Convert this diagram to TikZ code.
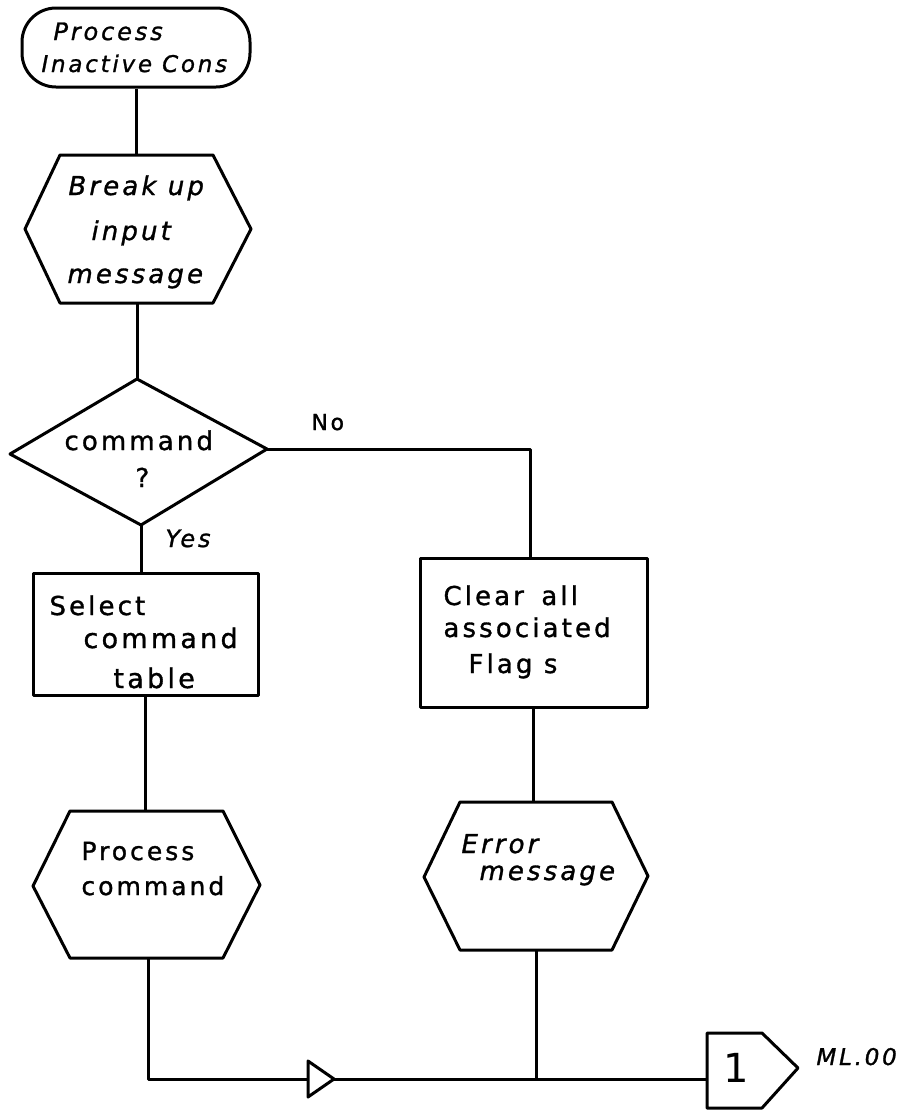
\documentclass[tikz,border=0pt]{standalone}
\usepackage{fontspec}
\newfontfamily\hand[LetterSpace=12,FakeBold=1.2]{DejaVu Sans}
\newfontfamily\numfont{DejaVu Sans}

\begin{document}
\begin{tikzpicture}[x=1pt,y=-1pt, line width=3pt, line join=round,
  box/.style={draw, fill=white, inner sep=0pt},
  txt/.style={anchor=base west, inner sep=0pt, font=\hand\fontsize{26}{30}\selectfont},
  itxt/.style={anchor=base west, inner sep=0pt, font=\hand\itshape\fontsize{26}{30}\selectfont},
  outline/.style={draw, fill=white}]
\useasboundingbox (0,0) rectangle (903,1112);

% --- connection points on the hexagons, diamond and connector ---
\coordinate (breakT) at (136,155);  \coordinate (breakB) at (137,303);
\coordinate (decT) at (137,379);    \coordinate (decR) at (267,449);
\coordinate (decB) at (141,525);
\coordinate (noCorner) at (530,449);
\coordinate (procT) at (145,811);   \coordinate (procB) at (148,958);
\coordinate (errT) at (533,802);    \coordinate (errB) at (536,950);
\coordinate (leftCorner) at (148,1079);
\coordinate (join) at (536,1079);
\coordinate (offL) at (707,1079);

% --- start terminal ---
\node[box, rounded corners=34pt, minimum width=228pt, minimum height=79pt] (start) at (136,47.5) {};

% --- process boxes ---
\node[box, minimum width=225pt, minimum height=122pt] (select) at (145.5,634) {};
\node[box, minimum width=227pt, minimum height=149pt] (clear) at (533.5,632.5) {};

% --- connectors ---
\draw (breakT |- start.south) -- (breakT);
\draw (breakB) -- (decT);
\draw (decB) -- (decB |- select.north);
\draw (decR) -- (noCorner) -- (noCorner |- clear.north);
\draw (procT |- select.south) -- (procT);
\draw (errT |- clear.south) -- (errT);
\draw (procB) -- (leftCorner) -- (join) -- (offL);
\draw (errB) -- (join);

% flow direction marker on the bottom line
\draw[outline] (308,1061) -- (334,1079) -- (308,1097) -- cycle;

% --- hexagons ---
\draw[outline] (60,155) -- (213,155) -- (251,229) -- (213,303) -- (60,303) -- (25,229) -- cycle;
\draw[outline] (70,811) -- (223,811) -- (260,885) -- (223,958) -- (70,958) -- (33,886) -- cycle;
\draw[outline] (460,802) -- (612,802) -- (648,876) -- (612,950) -- (460,950) -- (424,877) -- cycle;

% --- decision ---
\draw[outline] (decT) -- (decR) -- (decB) -- (10,454) -- cycle;

% --- off-page connector ---
\draw[outline] (707,1033) -- (762,1033) -- (798,1068) -- (762,1108) -- (707,1108) -- cycle;

% --- labels ---
\node[itxt, font=\hand\itshape\fontsize{24}{28}\selectfont] (startA) at (52,40) {Process};
\node[itxt, font=\hand\itshape\fontsize{23}{26}\selectfont] (startB) at (40,72) {Inactive Cons};

\node[itxt] (break1) at (67,195) {Break up};
\node[itxt] (break2) at (90,240) {input};
\node[itxt] (break3) at (66,283) {message};

\node[txt] (dec1) at (63,450) {command};
\node[txt] (dec2) at (134,487) {?};
\node[txt, font=\hand\fontsize{22}{24}\selectfont] (no) at (310,430) {No};
\node[itxt, font=\hand\itshape\fontsize{24}{26}\selectfont] (yes) at (164,547) {Yes};

\node[txt] (sel1) at (48,615) {Select};
\node[txt, font=\hand\fontsize{27}{30}\selectfont] (sel2) at (82,648) {command};
\node[txt, font=\hand\fontsize{27}{30}\selectfont] (sel3) at (112,688) {table};

\node[txt] (clr1) at (442,605) {Clear\hspace{6pt} all};
\node[txt] (clr2) at (442,637) {associated};
\node[txt] (clr3) at (467,673) {Flag s};

\node[txt, font=\hand\fontsize{25}{28}\selectfont] (pc1) at (80,860) {Process};
\node[txt, font=\hand\fontsize{25}{28}\selectfont] (pc2) at (80,895) {command};

\node[itxt] (err1) at (460,853) {Error};
\node[itxt] (err2) at (478,880) {message};

\node[anchor=base west, inner sep=0pt, font=\numfont\fontsize{40}{44}\selectfont] (one) at (722,1082) {1};
\node[itxt, font=\hand\itshape\fontsize{23}{26}\selectfont] (ref) at (815,1065) {ML.00};
\end{tikzpicture}
\end{document}
